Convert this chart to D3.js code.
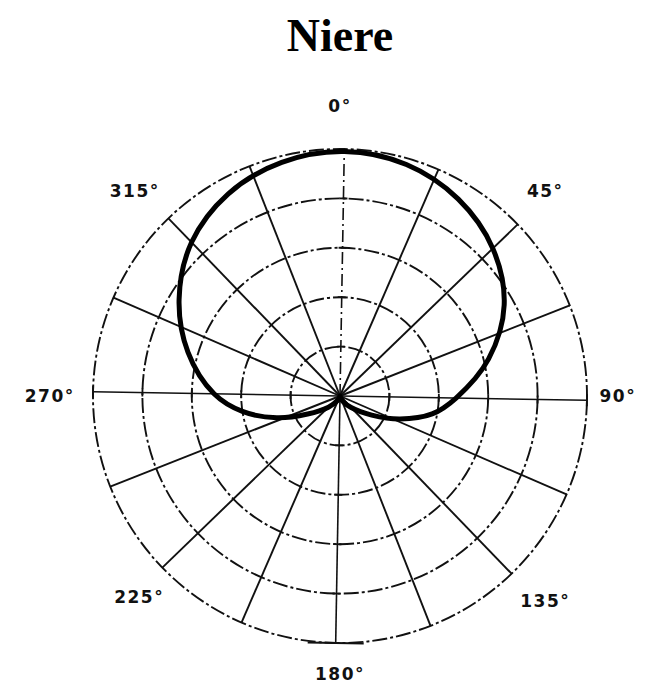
<!DOCTYPE html>
<html>
<head>
<meta charset="utf-8">
<script src="https://cdn.jsdelivr.net/npm/d3@7"></script>
<style>
  body { margin: 0; background: #fff; }
  svg { display: block; }
</style>
</head>
<body>
<svg id="chart" width="665" height="687"></svg>
<script>
// polar pattern (angle in degrees, clockwise from 0° at top; gain 0..1)
const angles = [0, 15, 30, 45, 60, 75, 90, 100, 110, 120, 135, 150, 165, 180,
                195, 210, 225, 240, 250, 260, 270, 285, 300, 315, 330, 345];
const gains = [0.99, 0.975, 0.93, 0.86, 0.76, 0.62, 0.47, 0.38, 0.26, 0.15, 0.065, 0.025, 0.008, 0,
               0.008, 0.025, 0.065, 0.15, 0.27, 0.40, 0.51, 0.64, 0.76, 0.865, 0.935, 0.975];

const rings = [0.2, 0.4, 0.6, 0.8, 1.0];
const spokes = [0, 22.5, 45, 67.5, 90, 112.5, 135, 157.5, 180, 202.5, 225, 247.5, 270, 292.5, 315, 337.5];
const labelAngles = [0, 45, 90, 135, 180, 225, 270, 315];
const labelTexts = ["0°", "45°", "90°", "135°", "180°", "225°", "270°", "315°"];

const cx = 340, cy = 396, R = 247;
const ink = "#111";

const svg = d3.select("#chart");
const r = d3.scaleLinear().domain([0, 1]).range([0, R]);
const rad = a => a * Math.PI / 180;
const px = (a, v) => r(v) * Math.sin(rad(a));
const py = (a, v) => -r(v) * Math.cos(rad(a));

svg.append("text")
    .attr("x", 340).attr("y", 51)
    .attr("text-anchor", "middle")
    .attr("font-family", "Liberation Serif, Times New Roman, serif")
    .attr("font-weight", "bold")
    .attr("font-size", 46)
    .text("Niere");

const g = svg.append("g").attr("transform", `translate(${cx},${cy}) rotate(1)`);

// rings
g.selectAll(".ring").data(rings).join("circle")
    .attr("class", "ring")
    .attr("r", d => r(d))
    .attr("fill", "none")
    .attr("stroke", ink)
    .attr("stroke-width", 1.9)
    .attr("stroke-dasharray", "15,3,3,3");

// spokes
g.selectAll(".spoke").data(spokes).join("line")
    .attr("class", "spoke")
    .attr("x1", 0).attr("y1", 0)
    .attr("x2", d => px(d, 1)).attr("y2", d => py(d, 1))
    .attr("stroke", ink)
    .attr("stroke-width", d => (d % 90 === 0 ? 1.6 : 1.9))
    .attr("stroke-dasharray", d => (d === 0 ? "12,4,2,4" : null));

// small ticks where the rings cross the main axes
const axisTicks = [];
[0, 90, 180, 270].forEach(a => rings.slice(0, 4).forEach(v => axisTicks.push({a, v, len: 4})));
g.selectAll(".tick").data(axisTicks).join("line")
    .attr("class", "tick")
    .attr("x1", d => px(d.a, d.v) + d.len * Math.cos(rad(d.a)))
    .attr("y1", d => py(d.a, d.v) + d.len * Math.sin(rad(d.a)))
    .attr("x2", d => px(d.a, d.v) - d.len * Math.cos(rad(d.a)))
    .attr("y2", d => py(d.a, d.v) - d.len * Math.sin(rad(d.a)))
    .attr("stroke", ink)
    .attr("stroke-width", 1.8);

// end bars on the axes at the outer ring
const ends = [{a: 90, len: 6}, {a: 270, len: 6}, {a: 180, len: 28}];
g.selectAll(".end").data(ends).join("line")
    .attr("class", "end")
    .attr("x1", d => px(d.a, 1) + d.len * Math.cos(rad(d.a)))
    .attr("y1", d => py(d.a, 1) + d.len * Math.sin(rad(d.a)))
    .attr("x2", d => px(d.a, 1) - d.len * Math.cos(rad(d.a)))
    .attr("y2", d => py(d.a, 1) - d.len * Math.sin(rad(d.a)))
    .attr("stroke", ink)
    .attr("stroke-width", 1.9);

// pattern
const pts = angles.map((a, i) => ({a, g: gains[i]}));
const line = d3.lineRadial()
    .angle(d => rad(d.a))
    .radius(d => r(d.g))
    .curve(d3.curveCatmullRomClosed.alpha(0.5));

g.append("path")
    .attr("d", line(pts))
    .attr("fill", "none")
    .attr("stroke", "#000")
    .attr("stroke-width", 5)
    .attr("stroke-linejoin", "round");

// angle labels (labels on the right and bottom sit a bit closer to the ring)
const labelDist = a => (a === 90 || a === 180 ? 1.125 : a === 225 ? 1.15 : 1.175);
svg.selectAll(".lab").data(labelAngles).join("text")
    .attr("class", "lab")
    .attr("x", d => cx + px(d, labelDist(d)))
    .attr("y", d => cy + py(d, labelDist(d)))
    .attr("dy", "0.35em")
    .attr("text-anchor", "middle")
    .attr("font-family", "DejaVu Sans, sans-serif")
    .attr("font-weight", "bold")
    .attr("font-size", 17)
    .attr("letter-spacing", 1.5)
    .attr("fill", ink)
    .text((d, i) => labelTexts[i]);
</script>
</body>
</html>
